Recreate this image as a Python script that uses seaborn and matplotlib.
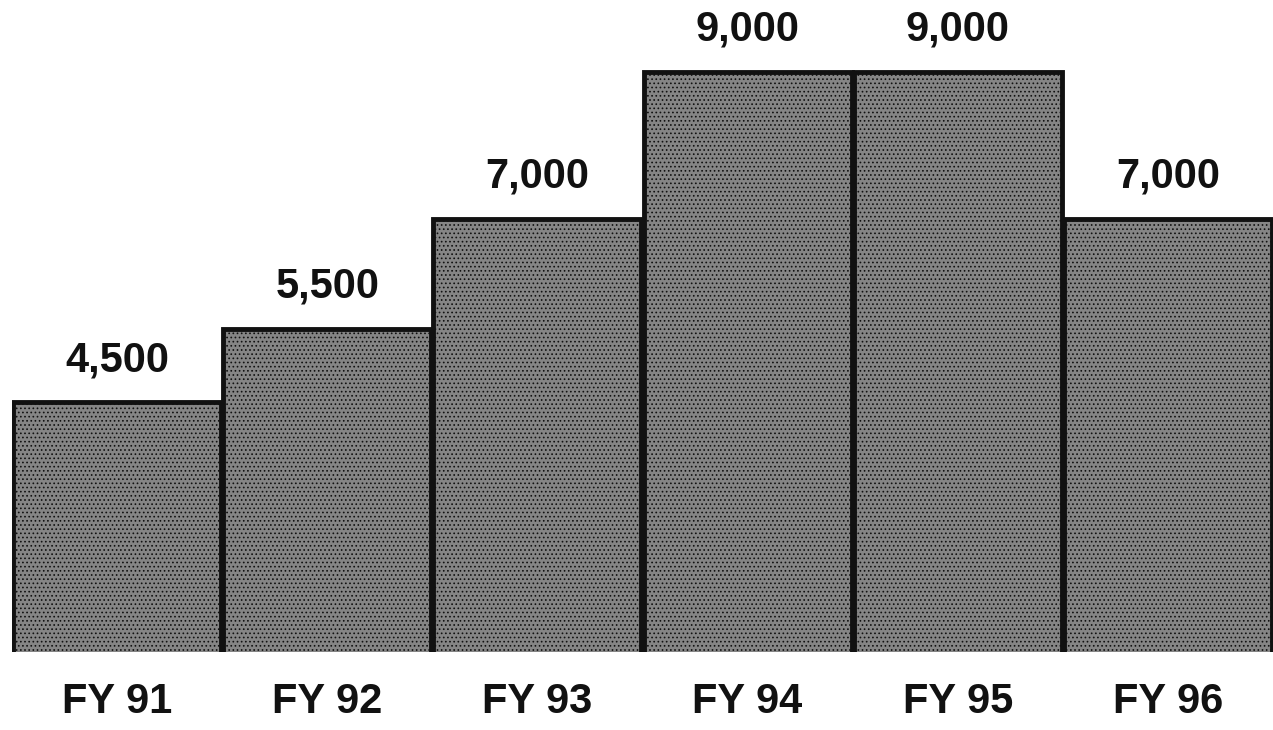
import matplotlib.pyplot as plt
import seaborn as sns
import pandas as pd

years = ['FY 91', 'FY 92', 'FY 93', 'FY 94', 'FY 95', 'FY 96']
values = [4500, 5500, 7000, 9000, 9000, 7000]
labels = ['4,500', '5,500', '7,000', '9,000', '9,000', '7,000']

data = pd.DataFrame({'Year': years, 'Value': values})

sns.set_style('white')
plt.rcParams['font.family'] = ['Liberation Sans', 'DejaVu Sans']
plt.rcParams['hatch.color'] = '#3a3a3a'
plt.rcParams['hatch.linewidth'] = 0.7

fig = plt.figure(figsize=(12.73, 7.3), dpi=100)
ax = fig.add_axes([0.0094, 0.107, 0.9906, 0.893])

sns.barplot(data=data, x='Year', y='Value', color='#858585', width=0.99,
            edgecolor='#111111', linewidth=3.5, saturation=1, ax=ax)
for p in ax.patches:
    p.set_hatch('....')

ax.bar_label(ax.containers[0], labels=labels, padding=16,
             fontsize=30, fontweight='bold', color='#111111')

# scanned chart's value axis does not start at zero
ax.set_ylim(1100, 9980)
ax.set_xlim(-0.5, 5.5)
ax.set_xlabel('')
ax.set_ylabel('')
ax.set_yticks([])
ax.tick_params(axis='x', length=0, pad=22, labelsize=30)
for t in ax.get_xticklabels():
    t.set_fontweight('bold')
    t.set_color('#111111')
sns.despine(ax=ax, left=True, bottom=True)

fig.savefig('out.png', dpi=100)
